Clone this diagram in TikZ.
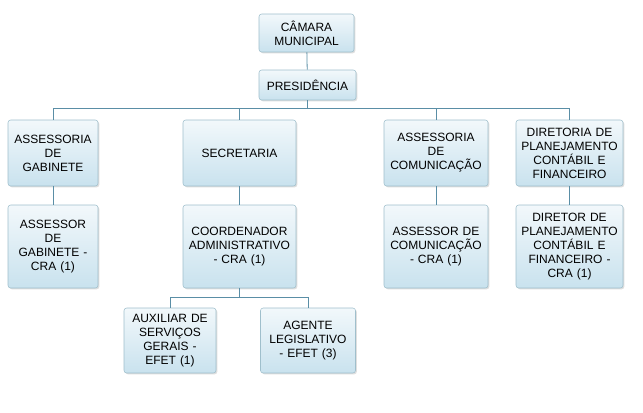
\documentclass[tikz,border=0pt]{standalone}
\usepackage{fontspec}
\setmainfont{Liberation Sans}
\usetikzlibrary{shadows}
\definecolor{bxtop}{HTML}{F2F8FB}
\definecolor{bxbot}{HTML}{C9E2EE}
\definecolor{bxline}{HTML}{9FBFCC}
\definecolor{cn}{HTML}{5A8EA6}
\begin{document}
\begin{tikzpicture}[x=0.75pt,y=-0.75pt,
  box/.style={draw=bxline,rounded corners=2pt,top color=bxtop,bottom color=bxbot,
    align=center,font=\fontsize{9}{10.5}\selectfont,inner sep=1pt,
    drop shadow={shadow xshift=1pt,shadow yshift=-1pt,opacity=0.25}},
  cnx/.style={draw=cn,line width=0.6pt}]
\useasboundingbox (0,0) rectangle (643,412);
\fill[white] (0,0) rectangle (643,412);
\newcommand{\bx}[6]{\node[box,minimum width=#4*0.75pt,minimum height=#5*0.75pt,text width=(#4-6)*0.75pt] (#1) at (#2,#3) {#6};}
\bx{cam}{306.5}{33}{95}{38}{CÂMARA\\MUNICIPAL}
\bx{pres}{307.5}{85}{97}{30}{PRESIDÊNCIA}
\bx{ag}{53}{153}{90}{66}{ASSESSORIA\\DE\\GABINETE}
\bx{sec}{239.5}{153}{113}{66}{SECRETARIA}
\bx{ac}{436}{153}{104}{66}{ASSESSORIA\\DE\\COMUNICAÇÃO}
\bx{dir}{569.5}{153}{107}{66}{DIRETORIA DE\\PLANEJAMENTO\\CONTÁBIL E\\FINANCEIRO}
\bx{asg}{53}{246.5}{90}{83}{ASSESSOR\\DE\\GABINETE -\\CRA (1)}
\bx{coo}{239.5}{246.5}{113}{83}{COORDENADOR\\ADMINISTRATIVO\\- CRA (1)}
\bx{asc}{436}{246.5}{104}{83}{ASSESSOR DE\\COMUNICAÇÃO\\- CRA (1)}
\bx{dtr}{569.5}{246.5}{107}{83}{DIRETOR DE\\PLANEJAMENTO\\CONTÁBIL E\\FINANCEIRO -\\CRA (1)}
\bx{aux}{170}{340.5}{92}{65}{AUXILIAR DE\\SERVIÇOS\\GERAIS -\\EFET (1)}
\bx{age}{308}{340.5}{95}{65}{AGENTE\\LEGISLATIVO\\- EFET (3)}
\coordinate (h1) at (0,108);
\coordinate (h2) at (0,297);
\draw[cnx] (cam) -- (pres);
\foreach \n in {ag,sec,ac,dir} \draw[cnx] (pres.south) |- (h1 -| \n) -- (\n.north);
\draw[cnx] (ag) -- (asg); \draw[cnx] (sec) -- (coo); \draw[cnx] (ac) -- (asc); \draw[cnx] (dir) -- (dtr);
\foreach \n in {aux,age} \draw[cnx] (coo.south) |- (h2 -| \n) -- (\n.north);
\end{tikzpicture}
\end{document}
